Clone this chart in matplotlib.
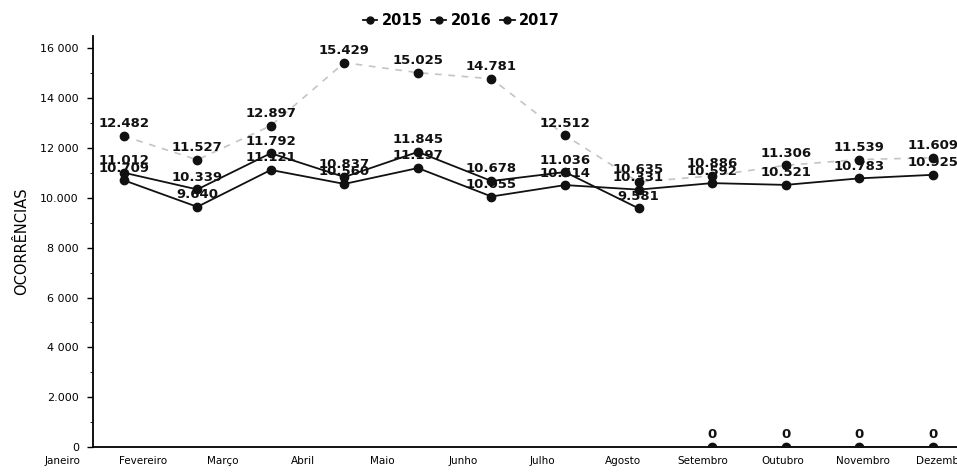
import numpy as np
import matplotlib.pyplot as plt
from matplotlib.ticker import MultipleLocator
from matplotlib.transforms import blended_transform_factory

meses = ["Janeiro", "Fevereiro", "Março", "Abril", "Maio", "Junho",
         "Julho", "Agosto", "Setembro", "Outubro", "Novembro", "Dezembro"]

valores_2015 = [10709, 9640, 11121, 10560, 11197, 10055,
                10514, 10331, 10592, 10521, 10783, 10925]
valores_2016 = [12482, 11527, 12897, 15429, 15025, 14781,
                12512, 10635, 10886, 11306, 11539, 11609]
valores_2017 = [11012, 10339, 11792, 10837, 11845, 10678,
                11036, 9581, 0, 0, 0, 0]

yticks = [0, 2000, 4000, 6000, 8000, 10000, 12000, 14000, 16000]
ytick_labels = ["0", "2.000", "4 000", "6 000", "8 000", "10.000",
                "12 000", "14 000", "16 000"]


def rotulo(v):
    # formato com ponto de milhar, como no gráfico original
    return f"{v:,}".replace(",", ".") if v else "0"


fig = plt.figure(figsize=(9.57, 4.73), dpi=100)
ax = fig.add_axes([0.097, 0.055, 0.903, 0.869])

x = np.arange(len(meses))

# 2016 aparece clara/tracejada na digitalização
ax.plot(x, valores_2016, color="#c4c4c4", lw=1.2, ls=(0, (4, 4)), zorder=2)
ax.plot(x, valores_2016, ls="none", marker="o", ms=6, color="#111111", zorder=3)

ax.plot(x, valores_2015, color="#111111", lw=1.3, marker="o", ms=6, zorder=3)

# 2017: o trecho Agosto -> Setembro não aparece na imagem
ax.plot(x[:8], valores_2017[:8], color="#111111", lw=1.3, marker="o", ms=6, zorder=3)
ax.plot(x[8:], valores_2017[8:], color="#111111", lw=1.3, marker="o", ms=6, zorder=3)

for serie in (valores_2015, valores_2016, valores_2017):
    for xi, v in zip(x, serie):
        ax.annotate(rotulo(v), (xi, v), xytext=(0, 4), textcoords="offset points",
                    ha="center", va="bottom", fontsize=9.5, fontweight="bold",
                    color="#111111")

# legenda
h15, = ax.plot([], [], color="#111111", lw=1.3, marker="o", ms=5)
h16, = ax.plot([], [], color="#111111", lw=1.3, marker="o", ms=5)
h17, = ax.plot([], [], color="#111111", lw=1.3, marker="o", ms=5)
fig.legend([h15, h16, h17], ["2015", "2016", "2017"], loc="upper center",
           bbox_to_anchor=(0.482, 1.0), ncol=3, frameon=False,
           handlelength=1.0, handletextpad=0.3, columnspacing=0.6,
           prop={"weight": "bold", "size": 10.5})

ax.set_ylim(0, 16500)
ax.set_yticks(yticks)
ax.set_yticklabels(ytick_labels, fontsize=8)
ax.yaxis.set_minor_locator(MultipleLocator(1000))

# no original os nomes dos meses ficam deslocados em relação aos pontos
ax.set_xticks([])
trans = blended_transform_factory(ax.transData, ax.transAxes)
for i, mes in enumerate(meses):
    ax.text(i * 1.088 - 0.83, -0.022, mes, transform=trans, ha="center", va="top",
            fontsize=7.5, clip_on=False)
ax.set_xlim(-0.42, 11.33)

ax.tick_params(axis="y", length=4, width=1, pad=6)
ax.tick_params(axis="y", which="minor", length=2)

ax.set_ylabel("OCORRÊNCIAS", fontsize=10.5, labelpad=8)

for lado in ("top", "right"):
    ax.spines[lado].set_visible(False)
ax.spines["left"].set_linewidth(1.3)
ax.spines["bottom"].set_linewidth(1.3)

fig.savefig("out.png", dpi=100)
